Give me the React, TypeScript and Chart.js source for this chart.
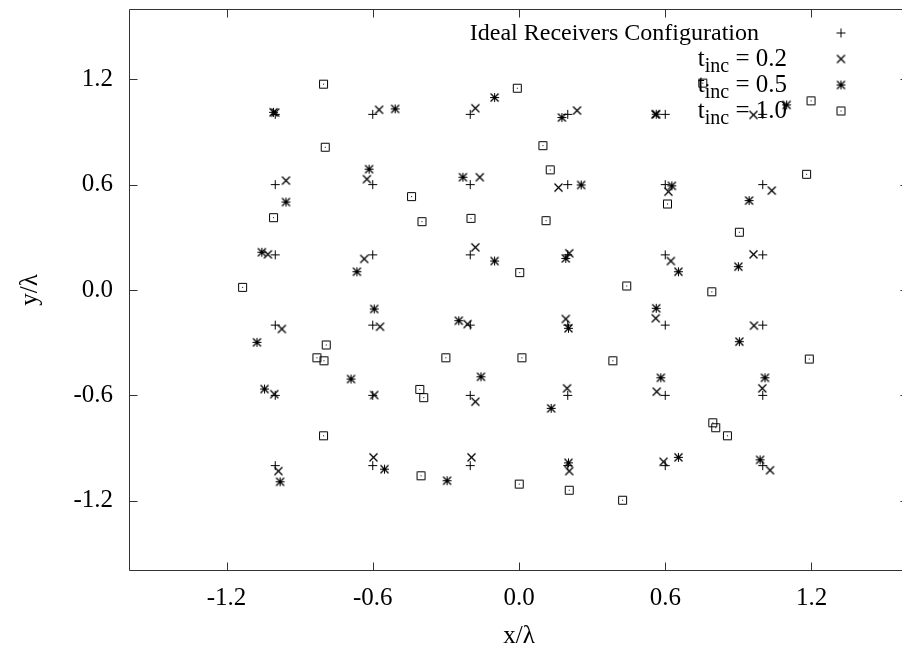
import React, { useEffect, useRef } from "react";
import { Chart, registerables } from "chart.js";

Chart.register(...registerables);

const FONT = '"Liberation Serif", "Times New Roman", serif';

// ---- data ----
const xTickValues = [-1.2, -0.6, 0.0, 0.6, 1.2];
const yTickValues = [-1.2, -0.6, 0.0, 0.6, 1.2];
const axisMin = -1.6;
const axisMax = 1.6;

const seriesNames = [
  "Ideal Receivers Configuration",
  "t_{inc} = 0.2",
  "t_{inc} = 0.5",
  "t_{inc} = 1.0",
];

const idealX = [
  -1.0, -0.6, -0.2, 0.2, 0.6, 1.0,
  -1.0, -0.6, -0.2, 0.2, 0.6, 1.0,
  -1.0, -0.6, -0.2, 0.2, 0.6, 1.0,
  -1.0, -0.6, -0.2, 0.2, 0.6, 1.0,
  -1.0, -0.6, -0.2, 0.2, 0.6, 1.0,
  -1.0, -0.6, -0.2, 0.2, 0.6, 1.0,
];
const idealY = [
  1.0, 1.0, 1.0, 1.0, 1.0, 1.0,
  0.6, 0.6, 0.6, 0.6, 0.6, 0.6,
  0.2, 0.2, 0.2, 0.2, 0.2, 0.2,
  -0.2, -0.2, -0.2, -0.2, -0.2, -0.2,
  -0.6, -0.6, -0.6, -0.6, -0.6, -0.6,
  -1.0, -1.0, -1.0, -1.0, -1.0, -1.0,
];

const t02X = [
  -1.0, -0.574, -0.179, 0.238, 0.56, 0.962,
  -0.956, -0.624, -0.161, 0.162, 0.613, 1.037,
  -1.03, -0.635, -0.179, 0.206, 0.623, 0.962,
  -0.973, -0.57, -0.211, 0.192, 0.561, 0.964,
  -1.004, -0.594, -0.179, 0.197, 0.565, 0.998,
  -0.987, -0.597, -0.195, 0.206, 0.593, 1.03,
];
const t02Y = [
  1.01, 1.026, 1.035, 1.022, 1.0, 0.997,
  0.623, 0.631, 0.642, 0.583, 0.56, 0.566,
  0.203, 0.177, 0.243, 0.209, 0.165, 0.203,
  -0.222, -0.209, -0.194, -0.165, -0.161, -0.203,
  -0.593, -0.598, -0.636, -0.56, -0.579, -0.56,
  -1.031, -0.953, -0.953, -1.031, -0.978, -1.026,
];

const t05X = [
  -1.007, -0.508, -0.1, 0.176, 0.563, 1.098,
  -0.956, -0.615, -0.23, 0.255, 0.627, 0.944,
  -1.055, -0.665, -0.1, 0.192, 0.654, 0.9,
  -1.075, -0.594, -0.247, 0.203, 0.563, 0.904,
  -1.044, -0.689, -0.156, 0.132, 0.582, 1.009,
  -0.98, -0.552, -0.295, 0.203, 0.654, 0.989,
];
const t05Y = [
  1.012, 1.031, 1.096, 0.982, 1.001, 1.054,
  0.501, 0.688, 0.642, 0.598, 0.593, 0.509,
  0.215, 0.104, 0.165, 0.18, 0.104, 0.133,
  -0.298, -0.108, -0.175, -0.218, -0.104, -0.294,
  -0.564, -0.507, -0.494, -0.674, -0.5, -0.5,
  -1.092, -1.02, -1.086, -0.984, -0.953, -0.967,
];

const t10X = [
  -0.802, -0.795, -1.007, -0.007, 0.098, 0.128, -0.441, -0.398, -0.197, 0.111,
  0.754, 1.198, 1.18, 0.609, 0.904, -1.134, -0.791, -0.829, -0.8, 0.003,
  0.442, -0.3, 0.012, 0.385, -0.407, -0.391, 0.791, 1.191, -0.802, -0.402,
  0.001, 0.206, 0.425, 0.795, 0.807, 0.855,
];
const t10Y = [
  1.172, 0.813, 0.412, 1.149, 0.822, 0.684, 0.532, 0.389, 0.408, 0.395,
  1.178, 1.077, 0.659, 0.49, 0.329, 0.015, -0.313, -0.386, -0.403, 0.099,
  0.023, -0.386, -0.386, -0.403, -0.566, -0.613, -0.01, -0.393, -0.83, -1.058,
  -1.105, -1.14, -1.197, -0.756, -0.784, -0.83,
];

const markerKinds = ["plus", "cross", "star", "box"];

function makeMarker(kind: string): HTMLCanvasElement {
  const c = document.createElement("canvas");
  c.width = 13;
  c.height = 13;
  const g = c.getContext("2d") as CanvasRenderingContext2D;
  g.strokeStyle = "#000";
  g.fillStyle = "#000";
  const m = 6.5;
  const h = 4.5;
  if (kind === "plus" || kind === "star") {
    g.lineWidth = 1;
    g.beginPath();
    g.moveTo(m - h, m);
    g.lineTo(m + h, m);
    g.moveTo(m, m - h);
    g.lineTo(m, m + h);
    g.stroke();
  }
  if (kind === "cross" || kind === "star") {
    g.lineWidth = 1.3;
    g.beginPath();
    g.moveTo(m - h + 0.5, m - h + 0.5);
    g.lineTo(m + h - 0.5, m + h - 0.5);
    g.moveTo(m - h + 0.5, m + h - 0.5);
    g.lineTo(m + h - 0.5, m - h + 0.5);
    g.stroke();
  }
  if (kind === "box") {
    g.lineWidth = 1;
    g.beginPath();
    g.rect(2.5, 2.5, 8, 8);
    g.stroke();
    g.fillRect(6, 6, 1, 1);
  }
  return c;
}

function toPoints(xs: number[], ys: number[]) {
  return xs.map((x, i) => ({ x, y: ys[i] }));
}

function drawRichText(
  ctx: CanvasRenderingContext2D,
  label: string,
  rightX: number,
  baseline: number,
  size: number
) {
  const m = label.match(/^(.*)_\{(.*)\}(.*)$/);
  const parts = m
    ? [
        { t: m[1], sub: false },
        { t: m[2], sub: true },
        { t: m[3], sub: false },
      ]
    : [{ t: label, sub: false }];
  const mainFont = `${size}px ${FONT}`;
  const subFont = `${Math.round(size * 0.8)}px ${FONT}`;
  let total = 0;
  const widths = parts.map((p) => {
    ctx.font = p.sub ? subFont : mainFont;
    const w = ctx.measureText(p.t).width;
    total += w;
    return w;
  });
  let x = rightX - total;
  ctx.textAlign = "left";
  ctx.textBaseline = "alphabetic";
  ctx.fillStyle = "#000";
  parts.forEach((p, i) => {
    ctx.font = p.sub ? subFont : mainFont;
    ctx.fillText(p.t, x, p.sub ? baseline + 6 : baseline);
    x += widths[i];
  });
}

export default function App() {
  const canvasRef = useRef<HTMLCanvasElement | null>(null);

  useEffect(() => {
    const canvas = canvasRef.current;
    if (!canvas) return;
    const markers = markerKinds.map(makeMarker);
    const seriesData = [
      toPoints(idealX, idealY),
      toPoints(t02X, t02Y),
      toPoints(t05X, t05Y),
      toPoints(t10X, t10Y),
    ];

    const framePlugin = {
      id: "gnuplotFrame",
      afterDraw(chart: any) {
        const ctx = chart.ctx as CanvasRenderingContext2D;
        const { left, right, top, bottom } = chart.chartArea;
        const xs = chart.scales.x;
        const ys = chart.scales.y;
        ctx.save();
        ctx.strokeStyle = "#333";
        ctx.lineWidth = 1;
        const L = Math.round(left) + 0.5;
        const R = Math.round(right) - 0.5;
        const T = Math.round(top) + 0.5;
        const B = Math.round(bottom) - 0.5;
        ctx.beginPath();
        ctx.moveTo(L, T);
        ctx.lineTo(R, T);
        ctx.lineTo(R, B);
        ctx.lineTo(L, B);
        ctx.closePath();
        const tl = 8;
        xTickValues.forEach((v) => {
          const px = Math.round(xs.getPixelForValue(v)) + 0.5;
          ctx.moveTo(px, B);
          ctx.lineTo(px, B - tl);
          ctx.moveTo(px, T);
          ctx.lineTo(px, T + tl);
        });
        yTickValues.forEach((v) => {
          const py = Math.round(ys.getPixelForValue(v)) + 0.5;
          ctx.moveTo(L, py);
          ctx.lineTo(L + tl, py);
          ctx.moveTo(R, py);
          ctx.lineTo(R - tl, py);
        });
        ctx.stroke();

        // legend (gnuplot style: right-justified text, sample to the right)
        const textRights = [759, 787, 787, 787];
        const sizes = [24, 25, 25, 25];
        const markerX = 841;
        const baselines = [40, 66, 92, 118];
        seriesNames.forEach((name, i) => {
          drawRichText(ctx, name, textRights[i], baselines[i], sizes[i]);
          const mk = markers[i];
          ctx.drawImage(mk, markerX - 6.5, baselines[i] - 7 - 6.5);
        });
        ctx.restore();
      },
    };

    const tickFont = { family: FONT, size: 25, lineHeight: 1.2 };
    const chart = new Chart(canvas, {
      type: "scatter",
      data: {
        datasets: seriesData.map((d, i) => ({
          label: seriesNames[i],
          data: d,
          pointStyle: markers[i] as any,
          pointRadius: 5,
          pointHoverRadius: 5,
          showLine: false,
          borderColor: "#000",
          backgroundColor: "#000",
        })),
      },
      options: {
        responsive: false,
        animation: false,
        events: [],
        layout: { padding: { left: 0, right: 11, top: 9, bottom: 0 } },
        plugins: {
          legend: { display: false },
          tooltip: { enabled: false },
        },
        scales: {
          x: {
            type: "linear",
            position: "bottom",
            min: axisMin,
            max: axisMax,
            grid: { display: false, drawTicks: false },
            border: { display: false },
            afterBuildTicks: (s: any) => {
              s.ticks = xTickValues.map((v) => ({ value: v }));
            },
            afterFit: (s: any) => {
              s.height = 83;
              s.paddingLeft = 0;
              s.paddingRight = 0;
            },
            ticks: {
              padding: 12,
              font: tickFont,
              color: "#000",
              autoSkip: false,
              maxRotation: 0,
              callback: (v: any) => Number(v).toFixed(1),
            },
            title: {
              display: true,
              text: "x/λ",
              color: "#000",
              font: tickFont,
              padding: { top: 0, bottom: 3 },
            },
          },
          y: {
            type: "linear",
            position: "left",
            min: axisMin,
            max: axisMax,
            grid: { display: false, drawTicks: false },
            border: { display: false },
            afterBuildTicks: (s: any) => {
              s.ticks = yTickValues.map((v) => ({ value: v }));
            },
            afterFit: (s: any) => {
              s.width = 129;
              s.paddingTop = 0;
              s.paddingBottom = 0;
            },
            ticks: {
              padding: 16,
              font: tickFont,
              color: "#000",
              autoSkip: false,
              callback: (v: any) => Number(v).toFixed(1),
            },
            title: {
              display: true,
              text: "y/λ",
              color: "#000",
              font: tickFont,
              padding: { top: 15, bottom: 0 },
            },
          },
        },
      } as any,
      plugins: [framePlugin],
    });
    return () => chart.destroy();
  }, []);

  return (
    <div
      style={{
        position: "fixed",
        left: 0,
        top: 0,
        width: 902,
        height: 654,
        overflow: "hidden",
        background: "#fff",
      }}
    >
      <canvas
        ref={canvasRef}
        width={920}
        height={654}
        style={{ display: "block", width: 920, height: 654 }}
      />
    </div>
  );
}
